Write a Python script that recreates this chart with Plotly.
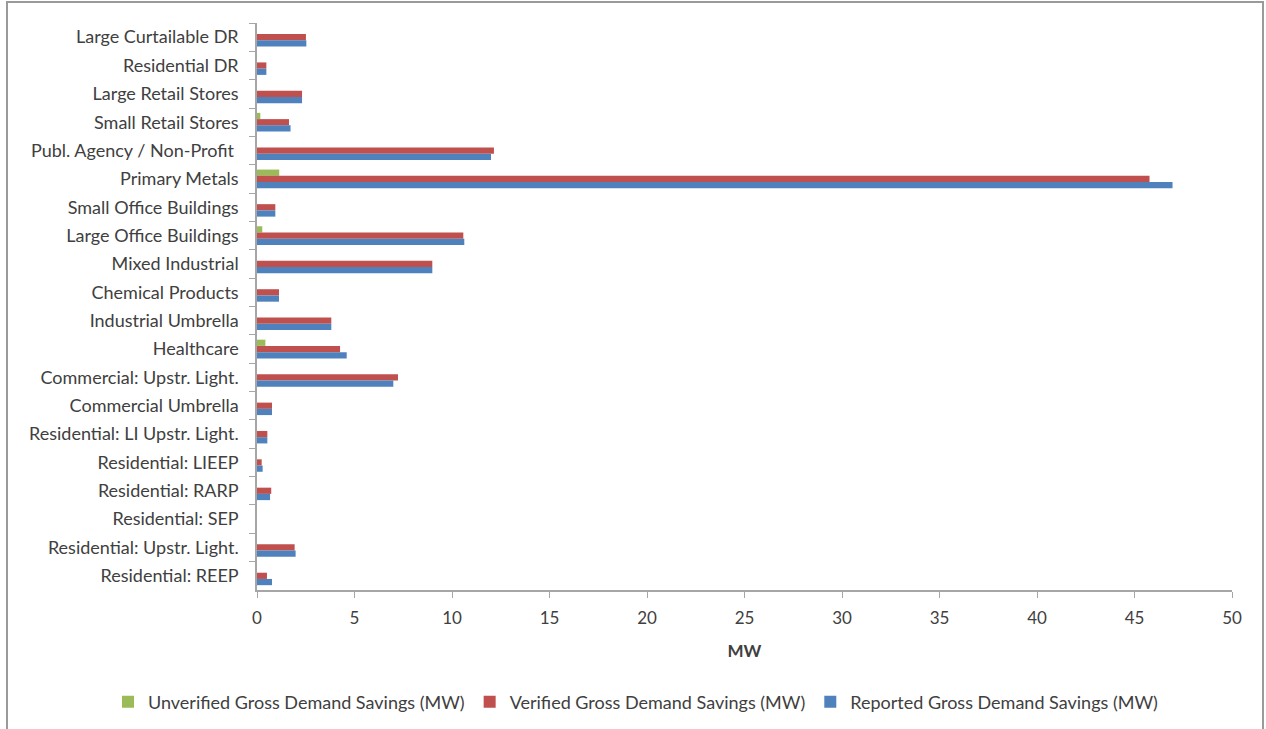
import plotly.graph_objects as go

categories = [
    "Large Curtailable DR",
    "Residential DR",
    "Large Retail Stores",
    "Small Retail Stores",
    "Publ. Agency / Non-Profit ",
    "Primary Metals",
    "Small Office Buildings",
    "Large Office Buildings",
    "Mixed Industrial",
    "Chemical Products",
    "Industrial Umbrella",
    "Healthcare",
    "Commercial: Upstr. Light.",
    "Commercial Umbrella",
    "Residential: LI Upstr. Light.",
    "Residential: LIEEP",
    "Residential: RARP",
    "Residential: SEP",
    "Residential: Upstr. Light.",
    "Residential: REEP",
]

unverified = [0, 0, 0, 0.17, 0, 1.14, 0, 0.27, 0, 0, 0, 0.43, 0, 0, 0, 0, 0, 0, 0, 0]
verified = [2.51, 0.48, 2.31, 1.64, 12.15, 45.77, 0.94, 10.58, 8.99, 1.13,
            3.81, 4.26, 7.23, 0.77, 0.53, 0.24, 0.73, 0, 1.93, 0.51]
reported = [2.53, 0.48, 2.31, 1.72, 12.0, 46.95, 0.94, 10.63, 8.99, 1.13,
            3.81, 4.60, 6.99, 0.77, 0.53, 0.29, 0.67, 0, 1.98, 0.77]

series = [
    ("Unverified Gross Demand Savings (MW)", unverified, "#9BBB59"),
    ("Verified Gross Demand Savings (MW)", verified, "#C0504D"),
    ("Reported Gross Demand Savings (MW)", reported, "#4F81BD"),
]

FONT = "Lato"
TEXT = "#404040"

fig = go.Figure()
for name, vals, color in series:
    fig.add_trace(go.Bar(
        y=categories, x=vals, name=name, orientation="h",
        marker=dict(color=color, line=dict(width=0)),
    ))

W, H = 1266, 729
ml, mr, mt, mb = 257, 34, 23, 139
pw, ph = W - ml - mr, H - mt - mb

def px_x(p):
    return (p - ml) / pw

def px_y(p):
    return (H - mb - p) / ph

fig.update_layout(
    width=W, height=H,
    margin=dict(l=ml, r=mr, t=mt, b=mb, autoexpand=False),
    paper_bgcolor="white", plot_bgcolor="white",
    barmode="group", bargap=0.34, bargroupgap=0,
    font=dict(family=FONT, size=18, color=TEXT),
    xaxis=dict(
        range=[0, 50], dtick=5, showgrid=False, zeroline=False,
        showline=True, linecolor="#A6A6A6", linewidth=1.5,
        ticks="outside", ticklen=6, tickcolor="#A6A6A6",
        tickfont=dict(size=17, color=TEXT), ticklabelstandoff=6,
        title=dict(text="<b>MW</b>", font=dict(size=17, color=TEXT), standoff=18),
    ),
    yaxis=dict(
        type="category", autorange="reversed", showgrid=False,
        showline=True, linecolor="#A6A6A6", linewidth=1.5,
        ticks="outside", ticklen=6, tickcolor="#A6A6A6", tickson="boundaries",
        tickfont=dict(size=18, color=TEXT), ticklabelstandoff=13,
    ),
    legend=dict(
        orientation="h", x=px_x(108), xanchor="left",
        y=px_y(702), yanchor="middle",
        font=dict(size=18, color=TEXT), itemwidth=30,
        traceorder="normal",
    ),
    shapes=[dict(
        type="rect", xref="paper", yref="paper",
        x0=px_x(7), x1=px_x(1263), y0=px_y(745), y1=px_y(2),
        line=dict(color="#9A9A9A", width=2), fillcolor="rgba(0,0,0,0)",
        layer="below",
    )],
)

fig.write_html("out.html")
